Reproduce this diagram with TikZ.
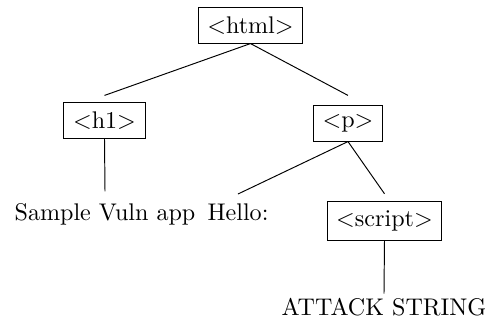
\documentclass[tikz,border=0pt]{standalone}
\begin{document}
\begin{tikzpicture}[x=0.415pt,y=-0.415pt,
  tag/.style={draw,inner xsep=3.8pt,inner ysep=0pt,minimum height=14.6pt},
  leaf/.style={inner sep=0pt,anchor=base,text height=7pt}]
\useasboundingbox (0,0) rectangle (490,329);
\node[tag] (html) at (250.5,25.5) {$<$html$>$};
\node[tag] (h1) at (104.5,120.5) {$<$h1$>$};
\node[tag] (p) at (348,123.5) {$<$p$>$};
\node[tag,minimum height=15.8pt] (script) at (384.5,221) {$<$script$>$};
\node[leaf] (sva) at (105,221) {Sample Vuln app};
\node[leaf] (hello) at (238,221) {Hello:};
\node[leaf] (attack) at (384,315.7) {ATTACK STRING};
\draw (html.south) -- ([yshift=2.9pt]h1.north);
\draw (html.south) -- ([yshift=4.15pt]p.north);
\draw (h1.south) -- ([yshift=5.1pt]sva.north);
\draw (p.south) -- ([yshift=4pt]hello.north);
\draw (p.south) -- ([yshift=3.2pt]script.north);
\draw (script.south) -- ([yshift=2pt]attack.north);
\end{tikzpicture}
\end{document}
